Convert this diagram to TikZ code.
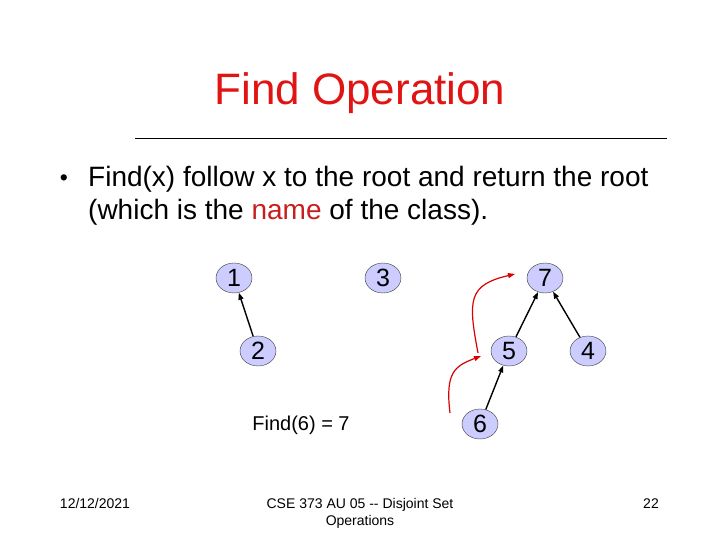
\documentclass[tikz,border=0pt]{standalone}
\usepackage{fontspec}
\setmainfont{Liberation Sans}
\usetikzlibrary{shapes.geometric,arrows.meta}
\definecolor{setfill}{RGB}{204,204,255}
\definecolor{titlered}{RGB}{225,20,20}
\definecolor{namered}{RGB}{200,30,30}
\tikzset{
  elem/.style={draw=black!80,fill=setfill,ellipse,minimum width=36pt,minimum height=30pt,inner sep=0pt,font=\fontsize{25}{27}\selectfont},
  up/.style={line width=1.4pt,-{Triangle[length=7pt,width=5pt]}},
  path/.style={draw=red!85!black,line width=1.2pt,-{Triangle[length=7pt,width=5pt]}}
}
\begin{document}
\begin{tikzpicture}[x=1pt,y=-1pt]
\useasboundingbox (0,0) rectangle (720,540);

\node[text=titlered,font=\fontsize{44}{48}\selectfont] (title) at (360,93) {Find Operation};
\draw[line width=0.7pt] (135,138) -- (667,138);

\node[anchor=base,font=\fontsize{23}{25}\selectfont] (dot) at (64,186) {\textbullet};
\node[anchor=base west,inner sep=0pt,font=\fontsize{28}{32}\selectfont] (line1) at (88,187) {Find(x) follow x to the root and return the root};
\node[anchor=base west,inner sep=0pt,font=\fontsize{28}{32}\selectfont] (line2) at (88,219) {(which is the \textcolor{namered}{name} of the class).};

\node[elem] (n1) at (234,278) {1};
\node[elem] (n3) at (383,278) {3};
\node[elem] (n7) at (545,278) {7};
\node[elem] (n2) at (258,351) {2};
\node[elem] (n5) at (509,351) {5};
\node[elem] (n4) at (588,351) {4};
\node[elem] (n6) at (480,424) {6};

\draw[up] (n2)--(n1);
\draw[up] (n5)--(n7);
\draw[up] (n4)--(n7);
\draw[up] (n6)--(n5);

% path followed by Find(6)
\coordinate (p0) at (450,413);
\coordinate (p1) at (481,356);
\coordinate (p2) at (478,353);
\coordinate (p3) at (515,274);
\draw[path] (p0) .. controls (445,372) and (455,366) .. (p1);
\draw[path] (p2) .. controls (468,300) and (468,285) .. (p3);

\node[font=\fontsize{20}{22}\selectfont] (res) at (301,425) {Find(6) = 7};

\node[anchor=base,font=\fontsize{14}{16}\selectfont] (date) at (95,508) {12/12/2021};
\node[align=center,anchor=north,font=\fontsize{14}{17}\selectfont] (foot) at (360,495) {CSE 373 AU 05 -{}- Disjoint Set\\Operations};
\node[anchor=base,font=\fontsize{14}{16}\selectfont] (page) at (651,508) {22};
\end{tikzpicture}
\end{document}
